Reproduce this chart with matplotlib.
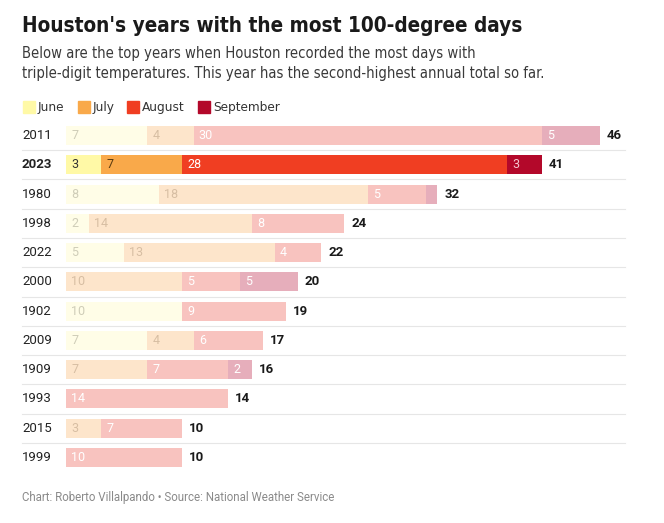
import matplotlib.pyplot as plt
import matplotlib.transforms as mtransforms
from matplotlib import font_manager as fm
from matplotlib.patches import Rectangle

# Data
years = ['2011', '2023', '1980', '1998', '2022', '2000', '1902', '2009', '1909', '1993', '2015', '1999']
june = [7, 3, 8, 2, 5, 0, 10, 7, 0, 0, 0, 0]
july = [4, 7, 18, 14, 13, 10, 0, 4, 7, 0, 3, 0]
august = [30, 28, 5, 8, 4, 5, 9, 6, 7, 14, 7, 10]
september = [5, 3, 1, 0, 0, 5, 0, 0, 2, 0, 0, 0]
months = ['June', 'July', 'August', 'September']
highlight = '2023'

strong = ['#fff9a6', '#f9a94a', '#f03e22', '#b3082a']
faded = ['#fffde7', '#fde5cb', '#f8c3bf', '#e6aebb']
strong_txt = ['#333333', '#5a3a10', 'white', '#f5c6cf']
faded_txt = ['#cfcdb8', '#d7bea3', 'white', 'white']

W, H = 664, 523
fig = plt.figure(figsize=(W / 100, H / 100), dpi=100)
fig.patch.set_facecolor('white')


# look for a narrow / condensed face for the headline text
def find_face(bold):
    best = None
    for f in fm.fontManager.ttflist:
        tag = (f.name + ' ' + f.fname).lower()
        if 'narrow' not in tag and 'condensed' not in tag:
            continue
        if 'italic' in tag or 'oblique' in tag:
            continue
        isbold = 'bold' in tag or f.weight in ('bold', 700)
        if isbold != bold:
            continue
        if best is None or 'liberation' in tag:
            best = f.fname
    return best


reg_file = find_face(False)
bold_file = find_face(True)
lab = ['Roboto', 'DejaVu Sans']


def head_font(bold, size, plain=False):
    fname = bold_file if bold else reg_file
    if fname and not plain:
        fp = fm.FontProperties(fname=fname)
    else:
        fp = fm.FontProperties(family=lab, weight='bold' if bold else 'normal')
    fp.set_size(size)
    return fp


def fx(px):
    return px / W


def fy(py):
    return 1 - py / H


def text_width(s, fp):
    t = fig.text(0, 0, s, fontproperties=fp)
    w = t.get_window_extent(fig.canvas.get_renderer()).width
    t.remove()
    return w


def fit_size(s, bold, width, size, cap, plain=False):
    # size that gives the line the same width as in the reference
    w = text_width(s, head_font(bold, size, plain))
    return min(cap, size * width / w)


fig.canvas.draw()
title = "Houston's years with the most 100-degree days"
t_sz = fit_size(title, True, 503, 18, 19)
fig.text(fx(22), fy(32), title, fontproperties=head_font(True, t_sz), color='#1a1a1a', va='baseline')

sub1 = 'Below are the top years when Houston recorded the most days with'
sub2 = 'triple-digit temperatures. This year has the second-highest annual total so far.'
sub_sz = min(fit_size(sub1, False, 457, 12, 13), fit_size(sub2, False, 522, 12, 13))
fig.text(fx(22), fy(58), sub1, fontproperties=head_font(False, sub_sz), color='#3a3a3a', va='baseline')
fig.text(fx(22), fy(78), sub2, fontproperties=head_font(False, sub_sz), color='#3a3a3a', va='baseline')

# legend
leg_sz = fit_size('September', False, 67, 10, 11)
lx = 23
for name, col in zip(months, strong):
    fig.patches.append(Rectangle((fx(lx), fy(113)), fx(12), 12 / H, color=col,
                                 transform=fig.transFigure, figure=fig))
    t = fig.text(fx(lx + 15), fy(111), name, fontproperties=head_font(False, leg_sz),
                 color='#333333', va='baseline')
    bb = t.get_window_extent(fig.canvas.get_renderer())
    lx = bb.x1 + 13

ax = fig.add_axes([fx(66), fy(472), fx(625 - 66), (472 - 121) / H])
ax.set_xlim(0, (625 - 66) / 11.6)
ax.set_ylim(len(years) - 0.5, -0.5)
ax.axis('off')

series = [june, july, august, september]
bar_h = 0.65
for i, yr in enumerate(years):
    hl = yr == highlight
    left = 0
    for m, vals in enumerate(series):
        v = vals[i]
        if v > 0:
            col = strong[m] if hl else faded[m]
            ax.barh(i, v, left=left, height=bar_h, color=col, linewidth=0)
            if v >= 2:
                ax.text(left + 0.45, i, str(v), va='center', ha='left', family=lab,
                        fontsize=9, color=strong_txt[m] if hl else faded_txt[m])
        left += v
    ax.text(left + 0.6, i, str(left), va='center', ha='left', family=lab,
            fontsize=9.5, weight='bold', color='#1a1a1a')

# year labels and separator lines
trans = mtransforms.blended_transform_factory(fig.transFigure, ax.transData)
for i, yr in enumerate(years):
    ax.text(fx(22), i, yr, transform=trans, va='center', ha='left', family=lab,
            fontsize=9.5, color='#222222', weight='bold' if yr == highlight else 'normal')
    if i < len(years) - 1:
        ax.plot([fx(22), fx(625)], [i + 0.5, i + 0.5], transform=trans, color='#e6e6e6',
                lw=0.8, clip_on=False)

foot = 'Chart: Roberto Villalpando \u2022 Source: National Weather Service'
f_sz = fit_size(foot, False, 316, 9, 9.5, plain=True)
fig.text(fx(22), fy(501), foot, fontproperties=head_font(False, f_sz, plain=True),
         color='#8a8a8a', va='baseline')

fig.savefig('out.png', dpi=100)
